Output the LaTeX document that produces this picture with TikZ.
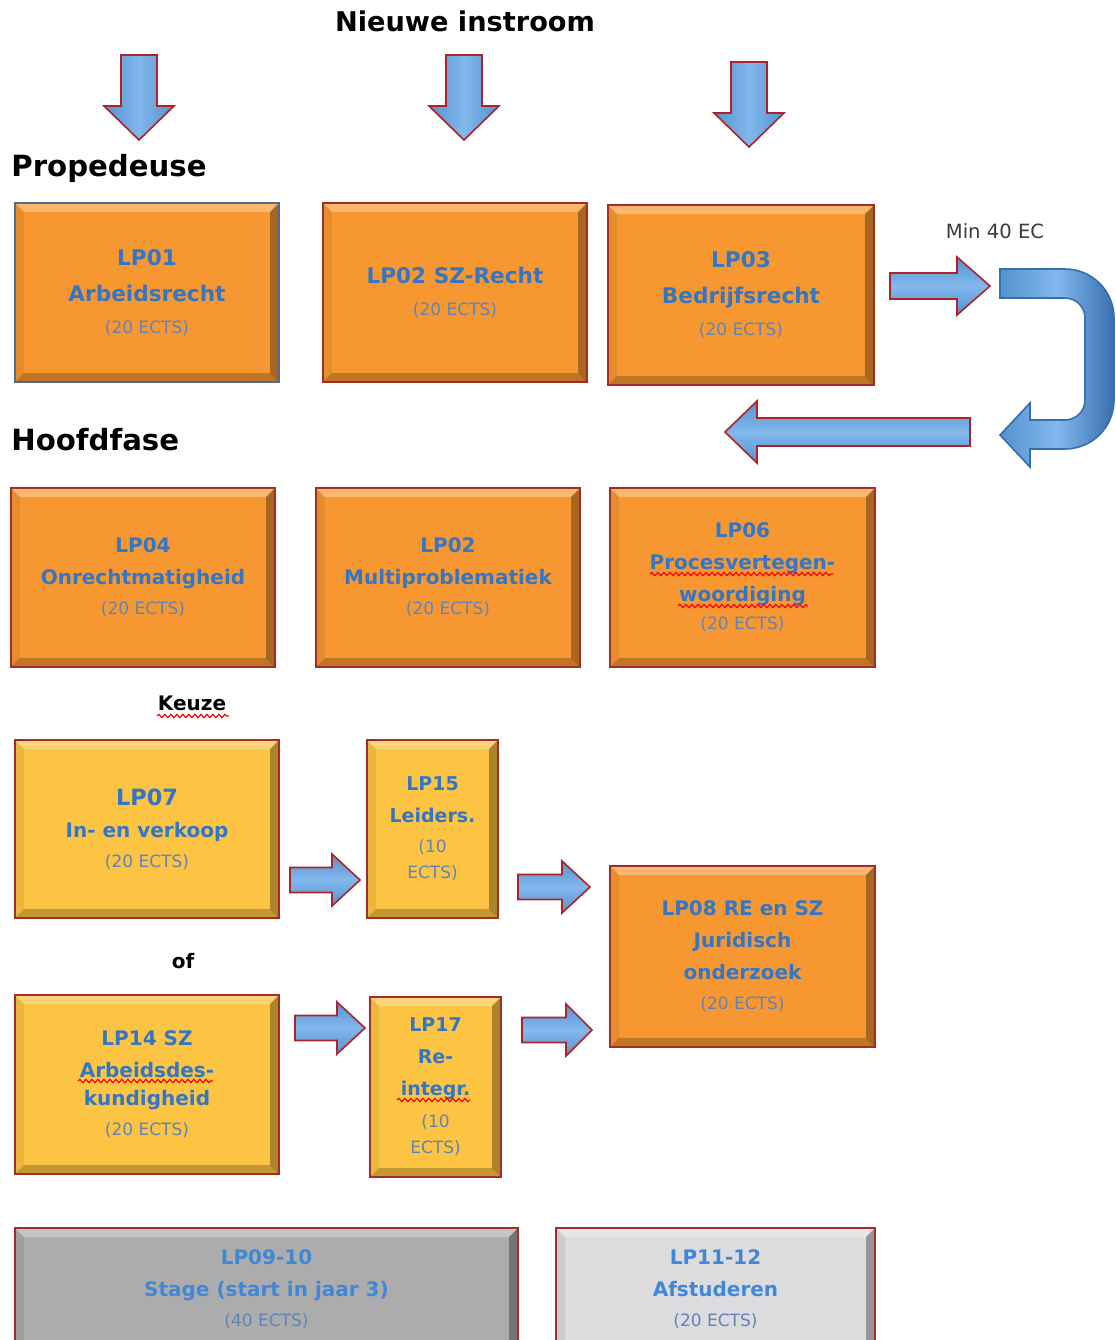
\documentclass[tikz,border=0pt]{standalone}
\usepackage{fontspec}
\setmainfont{DejaVu Sans}
\usetikzlibrary{decorations.pathmorphing}
\definecolor{orng}{RGB}{247,151,49}
\definecolor{ylw}{RGB}{252,196,66}
\definecolor{gry}{RGB}{172,172,172}
\definecolor{lgry}{RGB}{220,220,222}
\definecolor{txtblue}{RGB}{52,118,196}
\definecolor{ectsblue}{RGB}{95,132,185}
\definecolor{boxred}{RGB}{165,45,38}
\definecolor{slate}{RGB}{80,110,140}
\definecolor{arrblue}{RGB}{84,146,206}
\definecolor{arrlight}{RGB}{130,184,236}
\definecolor{arrdark}{RGB}{55,110,175}
\definecolor{arrred}{RGB}{175,35,40}
\newcommand\ectstxt[1]{{\mdseries\fontsize{8.5}{10}\selectfont\color{ectsblue}#1}}
\newcommand\dnblk[4]{%
  \path[blkarrow, left color=arrblue, right color=arrblue, middle color=arrlight] ({#1-18},#2) -- ({#1+18},#2) -- ({#1+18},#3) -- ({#1+35},#3) -- (#1,#4) -- ({#1-35},#3) -- ({#1-18},#3) -- cycle;}
\newcommand\hzblk[6]{%
  \path[blkarrow, top color=arrblue, bottom color=arrblue, middle color=arrlight] (#1,{#4-#5}) -- (#2,{#4-#5}) -- (#2,{#4-#6}) -- (#3,#4) -- (#2,{#4+#6}) -- (#2,{#4+#5}) -- (#1,{#4+#5}) -- cycle;}
\tikzset{
  bevel/.style={path picture={
    \fill[white,opacity=.3] (path picture bounding box.north west) -- (path picture bounding box.north east) -- ++(-4.5pt,-4.5pt) -- ([shift={(4.5pt,-4.5pt)}]path picture bounding box.north west) -- cycle;
    \fill[black,opacity=.22] (path picture bounding box.south west) -- (path picture bounding box.south east) -- ++(-4.5pt,4.5pt) -- ([shift={(4.5pt,4.5pt)}]path picture bounding box.south west) -- cycle;
    \fill[black,opacity=.32] (path picture bounding box.north east) -- (path picture bounding box.south east) -- ++(-4.5pt,4.5pt) -- ([shift={(-4.5pt,-4.5pt)}]path picture bounding box.north east) -- cycle;
    \fill[black,opacity=.07] (path picture bounding box.north west) -- (path picture bounding box.south west) -- ++(4.5pt,4.5pt) -- ([shift={(4.5pt,-4.5pt)}]path picture bounding box.north west) -- cycle;
  }},
  box/.style={draw=boxred, line width=0.7pt, bevel, align=center, text=txtblue, inner sep=0pt,
    font=\bfseries\fontsize{10}{16}\selectfont},
  bigtxt/.style={font=\bfseries\fontsize{10.8}{18}\selectfont},
  obox/.style={box, fill=orng},
  ybox/.style={box, fill=ylw},
  gbox/.style={box, fill=gry, text={rgb,255:red,65;green,135;blue,215}},
  lbox/.style={box, fill=lgry, text={rgb,255:red,65;green,135;blue,215}},
  head/.style={font=\bfseries\fontsize{14.6}{16}\selectfont, text=black, inner sep=0pt},
  blkarrow/.style={draw=arrred, line width=0.8pt, line join=miter},
  squig/.style={draw=red, line width=0.6pt, decorate, decoration={snake, segment length=3pt, amplitude=0.8pt}},
}
\begin{document}
\begin{tikzpicture}[x=0.5pt,y=-0.5pt]
\useasboundingbox (0,0) rectangle (1115,1340);
\fill[white] (0,0) rectangle (1115,1340);

% headings
\node[head, anchor=base, font=\bfseries\fontsize{13.6}{16}\selectfont] (instroom) at (465,31) {Nieuwe instroom};
\node[head, anchor=base west] (prop) at (11,176) {Propedeuse};
\node[head, anchor=base west] (hoofd) at (11,450) {Hoofdfase};
\node[anchor=base, inner sep=0pt, font=\fontsize{9.8}{12}\selectfont, text={rgb,255:red,60;green,60;blue,60}] (min40) at (995,238) {Min 40 EC};
\node[anchor=base, inner sep=0pt, font=\bfseries\fontsize{10}{12}\selectfont] (keuze) at (192,710) {Keuze};
\node[anchor=base, inner sep=0pt, font=\bfseries\fontsize{10}{12}\selectfont] (of) at (183,968) {of};

% incoming arrows
\dnblk{139}{55}{106}{140}
\dnblk{464}{55}{106}{140}
\dnblk{749}{62}{113}{147}

% propedeuse
\node[obox, bigtxt, draw=slate, minimum width=132pt, minimum height=89.5pt] (lp01) at (147,292.5)
  {LP01\\Arbeidsrecht\\[-2pt]\ectstxt{(20 ECTS)}};
\node[obox, bigtxt, minimum width=132pt, minimum height=89.5pt] (lp02a) at (455,292.5)
  {LP02 SZ-Recht\\[-2pt]\ectstxt{(20 ECTS)}};
\node[obox, bigtxt, minimum width=133pt, minimum height=90pt] (lp03) at (741,295)
  {LP03\\Bedrijfsrecht\\[-2pt]\ectstxt{(20 ECTS)}};

% min 40 EC arrows
\hzblk{890}{957}{990}{286}{13}{29}
\path[draw=arrdark, line width=0.8pt, left color=arrblue, right color=arrdark, middle color=arrlight]
  (1000,269) -- (1065,269) arc[start angle=-90, end angle=0, radius=49]
  -- (1114,400) arc[start angle=0, end angle=90, radius=49]
  -- (1030,449) -- (1030,467) -- (1000,435) -- (1030,403) -- (1030,420) -- (1065,420)
  arc[start angle=90, end angle=0, radius=20] -- (1085,318)
  arc[start angle=0, end angle=-90, radius=20] -- (1000,298) -- cycle;
\hzblk{970}{757}{725}{432}{14}{31}

% hoofdfase
\node[obox, minimum width=132pt, minimum height=89.5pt] (lp04) at (143,577.5)
  {LP04\\Onrechtmatigheid\\[-1pt]\ectstxt{(20 ECTS)}};
\node[obox, minimum width=132pt, minimum height=89.5pt] (lp02b) at (448,577.5)
  {LP02\\Multiproblematiek\\[-1pt]\ectstxt{(20 ECTS)}};
\node[obox, minimum width=132.5pt, minimum height=89.5pt] (lp06) at (742.5,577.5)
  {LP06\\Procesvertegen-\\woordiging\\[-2pt]\ectstxt{(20 ECTS)}};

% keuze
\node[ybox, minimum width=132pt, minimum height=89pt] (lp07) at (147,829)
  {{\fontsize{11.2}{16}\selectfont LP07}\\In- en verkoop\\[-1pt]\ectstxt{(20 ECTS)}};
\node[ybox, font=\bfseries\fontsize{9.5}{16}\selectfont, minimum width=65.5pt, minimum height=89pt] (lp15) at (432.5,829)
  {LP15\\Leiders.\\[-1pt]\ectstxt{(10}\\[-3pt]\ectstxt{ECTS)}};
\node[ybox, minimum width=132pt, minimum height=89.5pt] (lp14) at (147,1084.5)
  {LP14 SZ\\Arbeidsdes-\\[-2pt]kundigheid\\[-1pt]\ectstxt{(20 ECTS)}};
\node[ybox, font=\bfseries\fontsize{9.5}{16}\selectfont, minimum width=65.5pt, minimum height=90pt] (lp17) at (435.5,1087)
  {LP17\\Re-\\integr.\\[0pt]\ectstxt{(10}\\[-3pt]\ectstxt{ECTS)}};
\node[obox, minimum width=132.5pt, minimum height=90.5pt] (lp08) at (742.5,956.5)
  {LP08 RE en SZ\\Juridisch\\onderzoek\\[-1pt]\ectstxt{(20 ECTS)}};

\hzblk{290}{332}{360}{880}{12.5}{26}
\hzblk{518}{562}{590}{887}{12.5}{26}
\hzblk{295}{337}{365}{1028}{12.5}{26}
\hzblk{522}{566}{592}{1030}{12.5}{26}

% bottom
\node[gbox, minimum width=251.5pt, minimum height=61pt] (lp0910) at (266.5,1289)
  {LP09-10\\Stage (start in jaar 3)\\[-1pt]\ectstxt{(40 ECTS)}};
\node[lbox, minimum width=159.5pt, minimum height=61pt] (lp1112) at (715.5,1289)
  {LP11-12\\Afstuderen\\[-1pt]\ectstxt{(20 ECTS)}};

% spelling squiggles
\path[squig] (650,574) -- (833,574);
\path[squig] (678,606) -- (808,606);
\path[squig] (157,716) -- (229,716);
\path[squig] (78,1081) -- (213,1081);
\path[squig] (397,1100) -- (470,1100);
\end{tikzpicture}
\end{document}
